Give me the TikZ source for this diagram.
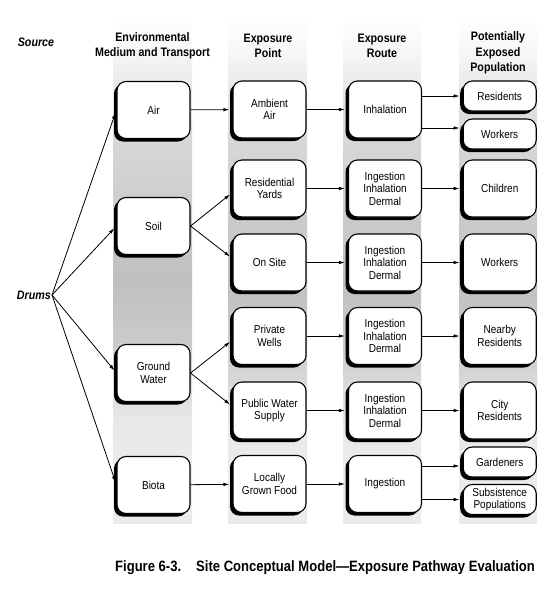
\documentclass[tikz,border=0pt]{standalone}
\usepackage{fontspec}
\setmainfont{Liberation Sans}[FakeStretch=0.87]
\usetikzlibrary{shadows,arrows.meta}
\pgfdeclareverticalshading{bandshade}{100bp}{color(0bp)=(black!8); color(25bp)=(black!8); color(31bp)=(black!8); color(35bp)=(black!9); color(42bp)=(black!20); color(49bp)=(black!25); color(57bp)=(black!19); color(64bp)=(black!15); color(71.6bp)=(black!3); color(75bp)=(white); color(100bp)=(white)}
\begin{document}
\begin{tikzpicture}[x=1pt,y=-1pt,
  font=\fontsize{11.5}{12.5}\selectfont,
  box/.style={draw, line width=1.1pt, rounded corners=9pt, fill=white,
    minimum width=73pt, minimum height=57pt, align=center, inner sep=2pt,
    general shadow={shadow xshift=-3pt, shadow yshift=-3pt, fill=black}},
  sbox/.style={box, minimum height=30pt},
  hdr/.style={font=\fontsize{12.3}{15.3}\selectfont\bfseries, align=center},
  arr/.style={-{Latex[length=6pt,width=3.5pt]}, line width=0.8pt, shorten >=3pt}]
\useasboundingbox (0,0) rectangle (550,598);
% bands
\foreach \a/\b in {113/192,228/307,343/421,459/537}
  \shade[shading=bandshade] (\a,15) rectangle (\b,523);
% headers
\node[hdr, font=\fontsize{12.3}{15.3}\selectfont\bfseries\itshape] (src) at (36,42) {Source};
\node[hdr] (h1) at (152.5,45.5) {Environmental\\Medium and Transport};
\node[hdr] (h2) at (268,45.5) {Exposure\\Point};
\node[hdr] (h3) at (382,45.5) {Exposure\\Route};
\node[hdr] (h4) at (498,53) {Potentially\\Exposed\\Population};
% source
\node[font=\fontsize{12.3}{15.3}\selectfont\bfseries\itshape, anchor=east, inner sep=1pt] (drums) at (52,295) {Drums};
% column 1
\node[box] (air) at (153.5,110) {Air};
\node[box] (soil) at (153.5,226) {Soil};
\node[box] (gw) at (153.5,373) {Ground\\Water};
\node[box] (biota) at (153.5,485) {Biota};
% column 2
\node[box] (amb) at (269.5,109.5) {Ambient\\Air};
\node[box] (resy) at (269.5,188.5) {Residential\\Yards};
\node[box] (onsite) at (269.5,262.5) {On Site};
\node[box] (pw) at (269.5,336) {Private\\Wells};
\node[box] (pub) at (269.5,410.5) {Public Water\\Supply};
\node[box] (local) at (269.5,484) {Locally\\Grown Food};
% column 3
\node[box] (inh) at (385,109.5) {Inhalation};
\node[box] (r1) at (385,188.5) {Ingestion\\Inhalation\\Dermal};
\node[box] (r2) at (385,262.5) {Ingestion\\Inhalation\\Dermal};
\node[box] (r3) at (385,336) {Ingestion\\Inhalation\\Dermal};
\node[box] (r4) at (385,410.5) {Ingestion\\Inhalation\\Dermal};
\node[box] (ing) at (385,484) {Ingestion};
% column 4
\node[sbox] (res) at (499.7,96) {Residents};
\node[sbox] (wk) at (499.7,134) {Workers};
\node[box] (child) at (499.7,188.5) {Children};
\node[box] (wk2) at (499.7,262.5) {Workers};
\node[box] (near) at (499.7,336) {Nearby\\Residents};
\node[box] (city) at (499.7,410.5) {City\\Residents};
\node[sbox] (gard) at (499.7,462) {Gardeners};
\node[sbox] (subs) at (499.7,499.5) {Subsistence\\Populations};
\coordinate (wkin) at ([yshift=6pt]wk.west);
\coordinate (gardin) at ([yshift=-4pt]gard.west);
% connectors
\draw[arr] (drums.east) -- (air.west);
\draw[arr] (drums.east) -- (soil.west);
\draw[arr] (drums.east) -- (gw.west);
\draw[arr] (drums.east) -- (biota.west);
\draw[arr] (air) -- (amb);
\draw[arr] (soil.east) -- ([yshift=-4pt]resy.west);
\draw[arr] (soil.east) -- ([yshift=4pt]onsite.west);
\draw[arr] (gw.east) -- ([yshift=-4pt]pw.west);
\draw[arr] (gw.east) -- ([yshift=4pt]pub.west);
\draw[arr] (biota) -- (local);
\draw[arr] (amb) -- (inh);
\draw[arr] (resy) -- (r1);
\draw[arr] (onsite) -- (r2);
\draw[arr] (pw) -- (r3);
\draw[arr] (pub) -- (r4);
\draw[arr] (local) -- (ing);
\draw[arr] (inh.east |- res.west) -- (res.west);
\draw[arr] (inh.east |- wkin) -- (wkin);
\draw[arr] (r1) -- (child);
\draw[arr] (r2) -- (wk2);
\draw[arr] (r3) -- (near);
\draw[arr] (r4) -- (city);
\draw[arr] (ing.east |- gardin) -- (gardin);
\draw[arr] (ing.east |- subs.west) -- (subs.west);
% caption
\node[font=\fontsize{15}{17}\selectfont\bfseries, anchor=west, inner sep=0pt] (cap) at (115,568) {Figure 6-3.\hskip 15pt Site Conceptual Model—Exposure Pathway Evaluation};
\end{tikzpicture}
\end{document}
